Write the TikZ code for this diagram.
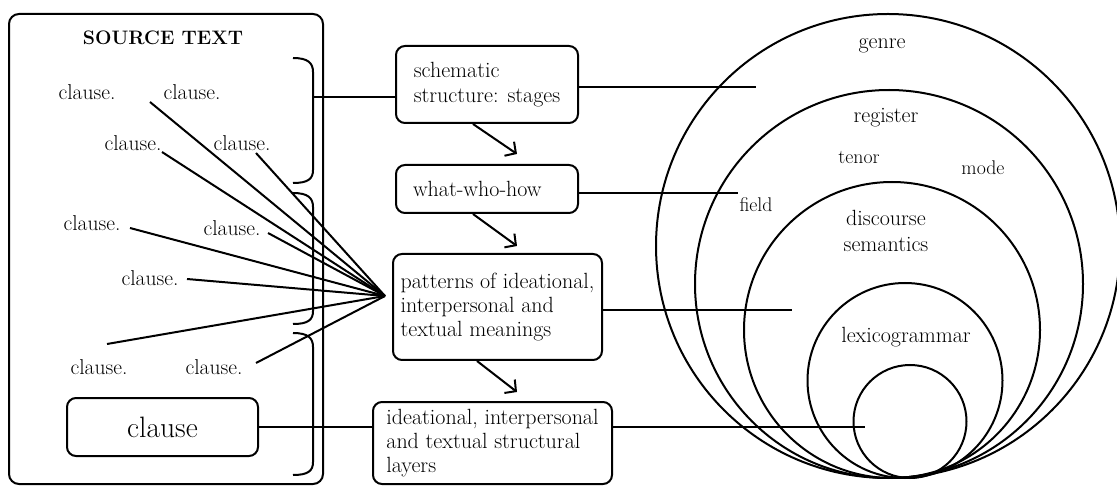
\documentclass[tikz,border=0pt]{standalone}
\usetikzlibrary{arrows.meta}
\begin{document}
\begin{tikzpicture}[x=1pt,y=-1pt,
  line width=2pt,
  frame/.style={draw, rounded corners=10pt, inner sep=0pt},
  stage/.style={draw, rounded corners=9pt, align=left, inner sep=0pt,
    font=\fontsize{22}{24.3}\selectfont},
  cl/.style={font=\fontsize{21.5}{24}\selectfont, inner sep=0pt},
  lbl/.style={font=\fontsize{22}{26}\selectfont, align=center, inner sep=0pt},
  small/.style={font=\fontsize{19.8}{22}\selectfont, inner sep=0pt},
  ring/.style={draw, circle, inner sep=0pt},
  flow/.style={-{Straight Barb[length=8pt,width=17pt]}},
]
\useasboundingbox (0,0) rectangle (1117,486);
\begin{scope}
\clip (0,0) rectangle (1117,486);

% ---- source text panel ----
\node[frame, minimum width=314pt, minimum height=470pt] (src) at (166,249) {};
\node[font=\bfseries\fontsize{19.5}{22}\selectfont, inner sep=0pt] (title) at (163,38) {SOURCE TEXT};

\node[cl] (c1) at (87,92)   {clause.};
\node[cl] (c2) at (192,92)  {clause.};
\node[cl] (c3) at (133,143) {clause.};
\node[cl] (c4) at (242,143) {clause.};
\node[cl] (c5) at (92,223)  {clause.};
\node[cl] (c6) at (232,228) {clause.};
\node[cl] (c7) at (150,278) {clause.};
\node[cl] (c8) at (99,367)  {clause.};
\node[cl] (c9) at (214,367) {clause.};

\node[frame, rounded corners=9pt, minimum width=191pt, minimum height=58pt,
  font=\fontsize{29.5}{32}\selectfont] (clause) at (162.5,427) {clause};

% brackets grouping the clauses
\draw (293,58) .. controls (308,58) and (313,63) .. (313,72) -- (313,170)
  .. controls (313,179) and (308,183) .. (293,183);
\draw (293,193) .. controls (308,193) and (313,198) .. (313,207) -- (313,311)
  .. controls (313,320) and (308,324) .. (293,324);
\draw (293,333) .. controls (308,333) and (313,338) .. (313,347) -- (313,462)
  .. controls (313,471) and (308,475) .. (293,475);

% ---- stages column ----
\node[stage, minimum width=182pt, minimum height=77pt] (sch) at (487,84.5)
  {schematic\\structure: stages};
\node[stage, minimum width=182pt, minimum height=48pt, text width=148pt] (what) at (487,189)
  {what-who-how};
\node[stage, minimum width=209pt, minimum height=106pt] (pat) at (497.5,307)
  {patterns of ideational,\\interpersonal and\\textual meanings};
\node[stage, minimum width=239pt, minimum height=82pt] (ide) at (492.5,443)
  {ideational, interpersonal\\and textual structural\\layers};

\draw[flow] ([xshift=-14pt]sch.south) -- ([xshift=30pt,yshift=10pt]what.north);
\draw[flow] ([xshift=-14pt]what.south) -- ([xshift=19.5pt,yshift=7pt]pat.north);
\draw[flow] ([xshift=-20.5pt]pat.south) -- ([xshift=24.5pt,yshift=9pt]ide.north);

% ---- links from the text to the stages ----
\coordinate (b1) at (313,97);
\draw (b1) -- (b1 -| sch.west);
\draw (clause.east) -- (clause.east -| ide.west);

\coordinate (F) at (385,296);
\coordinate (s1) at (150,102);
\coordinate (s2) at (162,152);
\coordinate (s3) at (256,153);
\coordinate (s4) at (130,228);
\coordinate (s5) at (268,233);
\coordinate (s6) at (187,279);
\coordinate (s7) at (107,344);
\coordinate (s8) at (256,363);
\foreach \s in {s1,s2,s3,s4,s5,s6,s7,s8} \draw (\s) -- (F);

% ---- strata ----
\node[ring, minimum size=464pt] (genre) at (888,246) {};
\node[ring, minimum size=388pt] (register) at (889,284) {};
\node[ring, minimum size=296pt] (dsem) at (892,330) {};
\node[ring, minimum size=195pt] (lexg) at (905,380.5) {};
\node[ring, minimum size=113pt] (core) at (910,421.5) {};

\node[lbl] (tgenre) at (882,46) {genre};
\node[lbl] (treg) at (886,118) {register};
\node[small] (ttenor) at (859,157) {tenor};
\node[small] (tmode) at (983,168) {mode};
\node[small] (tfield) at (756,205) {field};
\node[lbl] (tdsem) at (886,231) {discourse\\semantics};
\node[lbl] (tlexg) at (906,337) {lexicogrammar};

\coordinate (g1) at (756,87);
\coordinate (g2) at (738,193);
\coordinate (g3) at (792,310);
\coordinate (g4) at (865,427);
\draw (sch.east |- g1) -- (g1);
\draw (what.east |- g2) -- (g2);
\draw (pat.east |- g3) -- (g3);
\draw (ide.east |- g4) -- (g4);
\end{scope}
\end{tikzpicture}
\end{document}
